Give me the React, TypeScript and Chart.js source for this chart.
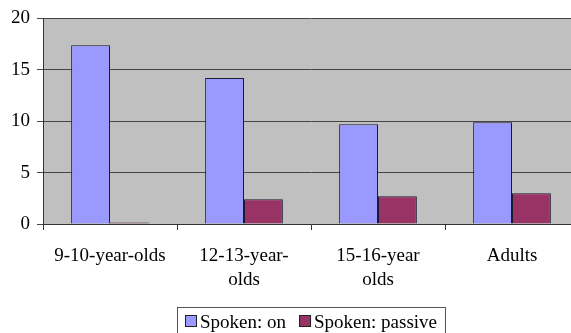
import { useEffect, useRef } from 'react';
import { Chart, registerables } from 'chart.js';

Chart.register(...registerables);

const categories: string[][] = [['9-10-year-olds'], ['12-13-year-', 'olds'], ['15-16-year', 'olds'], ['Adults']];
const seriesNames = ['Spoken: on', 'Spoken: passive'];
const spokenOn = [17.4, 14.2, 9.7, 9.9];
const spokenPassive = [0.15, 2.4, 2.7, 3.0];
const yMin = 0;
const yMax = 20;
const yStep = 5;

const FONT = "'Liberation Serif', serif";
Chart.defaults.font.family = FONT;

const plotBg = {
  id: 'plotBg',
  beforeDraw(chart: any) {
    const { ctx, chartArea } = chart;
    ctx.save();
    ctx.fillStyle = '#c0c0c0';
    ctx.fillRect(chartArea.left, chartArea.top, chartArea.right - chartArea.left, chartArea.bottom - chartArea.top);
    ctx.restore();
  },
};

const boxLegend = {
  id: 'boxLegend',
  afterDraw(chart: any) {
    const { ctx, chartArea } = chart;
    ctx.save();
    ctx.font = '19px ' + FONT;
    ctx.textBaseline = 'alphabetic';
    const box = 12, gap = 3, itemGap = 13, pad = 8;
    const items = chart.data.datasets.map((ds: any) => ({
      label: ds.label as string,
      color: ds.backgroundColor as string,
      w: ctx.measureText(ds.label).width,
    }));
    let total = pad * 2;
    items.forEach((it: any, i: number) => {
      total += box + gap + it.w + (i > 0 ? itemGap : 0);
    });
    const x0 = Math.round((chartArea.left + chartArea.right) / 2 - total / 2);
    const y0 = Math.round(chartArea.bottom + 83);
    ctx.strokeStyle = '#555';
    ctx.lineWidth = 1;
    ctx.strokeRect(x0 + 0.5, y0 + 0.5, total, 40);
    let x = x0 + pad;
    items.forEach((it: any, i: number) => {
      if (i > 0) x += itemGap;
      ctx.fillStyle = it.color;
      ctx.fillRect(x, y0 + 8, box, box);
      ctx.strokeStyle = '#222';
      ctx.strokeRect(x + 0.5, y0 + 8.5, box - 1, box - 1);
      x += box + gap;
      ctx.fillStyle = '#000';
      ctx.fillText(it.label, x, y0 + 21);
      x += it.w;
    });
    ctx.restore();
  },
};

export default function App() {
  const ref = useRef<HTMLCanvasElement>(null);

  useEffect(() => {
    const canvas = ref.current!;
    const warm = canvas.getContext('2d')!;
    warm.font = '19px ' + FONT;
    warm.fillStyle = '#fff';
    warm.fillText('Spoken 0123456789', 0, 20);
    const chart = new Chart(canvas, {
      type: 'bar',
      data: {
        labels: categories,
        datasets: [
          {
            label: seriesNames[0],
            data: spokenOn,
            backgroundColor: '#9999ff',
            borderColor: '#1a1a30',
            borderWidth: 1,
          },
          {
            label: seriesNames[1],
            data: spokenPassive,
            backgroundColor: '#993366',
            borderColor: '#1a1a30',
            borderWidth: 1,
          },
        ],
      },
      options: {
        responsive: false,
        animation: false,
        categoryPercentage: 0.58,
        barPercentage: 1.0,
        layout: { padding: { left: 0, right: 0, top: 18, bottom: 46 } },
        plugins: {
          legend: { display: false },
          tooltip: { enabled: false },
        },
        scales: {
          x: {
            offset: true,
            afterFit(scale: any) {
              scale.height = 70;
            },
            grid: {
              offset: true,
              drawOnChartArea: false,
              drawTicks: true,
              tickLength: 6,
              color: '#333',
            },
            border: { display: true, color: '#333', width: 1 },
            ticks: {
              color: '#000',
              font: { family: FONT, size: 19, lineHeight: 1.26 },
              padding: 14,
              maxRotation: 0,
              autoSkip: false,
            },
          },
          y: {
            min: yMin,
            max: yMax,
            afterFit(scale: any) {
              scale.width = 43;
            },
            grid: {
              color: '#454545',
              lineWidth: 1,
              drawTicks: true,
              tickLength: 6,
            },
            border: { display: true, color: '#333', width: 1 },
            ticks: {
              stepSize: yStep,
              color: '#000',
              padding: 7,
              font: { family: FONT, size: 19 },
            },
          },
        },
      },
      plugins: [plotBg, boxLegend],
    });
    return () => chart.destroy();
  }, []);

  return (
    <div style={{ position: 'fixed', top: 0, left: 0, width: 571, height: 333, overflow: 'hidden', background: '#fff' }}>
      <canvas ref={ref} width={579} height={340} />
    </div>
  );
}
